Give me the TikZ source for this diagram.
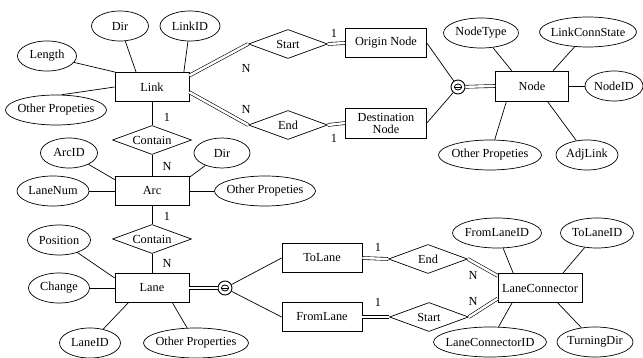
\documentclass[tikz,border=0pt]{standalone}
\usepackage{fontspec}
\setmainfont{Liberation Serif}
\usetikzlibrary{shapes.geometric}

\begin{document}
\begin{tikzpicture}[x=1pt, y=-1pt,
  every node/.style={font=\fontsize{12.3}{14}\selectfont},
  ent/.style={rectangle, draw, line width=0.7pt, minimum width=74pt, minimum height=29pt, inner sep=1pt, align=center},
  attr/.style={ellipse, draw, line width=0.7pt, minimum height=30pt, inner xsep=-6pt, inner ysep=0pt},
  rel/.style={diamond, draw, line width=0.7pt, shape aspect=2.75, minimum width=79pt, minimum height=29pt, inner sep=0pt},
  disj/.style={circle, draw, line width=0.9pt, minimum size=14pt, inner sep=0pt,
               path picture={\draw[line width=0.8pt] (path picture bounding box.center) ellipse (3.6pt and 3pt);
                             \draw[line width=0.6pt] ([xshift=-3.6pt]path picture bounding box.center) -- ([xshift=3.6pt]path picture bounding box.center);}},
  conn/.style={line width=0.7pt},
  dbl/.style={double, double distance=2.4pt, line width=0.6pt},
  lbl/.style={inner sep=0pt}
]
\useasboundingbox (0,0) rectangle (643,358);

% Entities
\node[ent] (link) at (152,87)  {Link};
\node[ent] (arc)  at (152,191) {Arc};
\node[ent] (lane) at (152,288) {Lane};
\node[ent, minimum width=81pt] (orig) at (386,43)  {Origin Node};
\node[ent, minimum width=81pt, minimum height=30pt] (dest) at (386,123) {Destination\\[-2pt]Node};
\node[ent, minimum width=73pt, minimum height=30pt] (node) at (532,86) {Node};
\node[ent, minimum width=80pt] (tolane)   at (322,258) {ToLane};
\node[ent, minimum width=80pt] (fromlane) at (322,317) {FromLane};
\node[ent, minimum width=84pt] (lconn)    at (540,288) {LaneConnector};

% Relationships
\node[rel] (cont1)  at (152,140) {Contain};
\node[rel] (cont2)  at (152,239) {Contain};
\node[rel] (lstart) at (288,44)  {Start};
\node[rel] (lend)   at (288,125) {End};
\node[rel] (cend)   at (428,259) {End};
\node[rel] (cstart) at (429,317) {Start};

% Disjoint circles
\node[disj] (djnode) at (458,87) {};
\node[disj] (djlane) at (225,288) {};

% Attributes of Link
\node[attr, minimum width=57pt]  (ldir)   at (120,26)  {Dir};
\node[attr, minimum width=60pt]  (lid)    at (190,26)  {LinkID};
\node[attr, minimum width=59pt]  (llen)   at (47,56)   {Length};
\node[attr, minimum width=101pt] (loth)   at (56,110)  {Other Propeties};

% Attributes of Node
\node[attr, minimum width=75pt]  (ntype)  at (481,33)  {NodeType};
\node[attr, minimum width=97pt]  (nstate) at (588,32)  {LinkConnState};
\node[attr, minimum width=58pt]  (nid)    at (614,86)  {NodeID};
\node[attr, minimum width=103pt] (noth)   at (490,155) {Other Propeties};
\node[attr, minimum width=62pt]  (nadj)   at (587,155) {AdjLink};

% Attributes of Arc
\node[attr, minimum width=57pt]  (aid)    at (69,153)  {ArcID};
\node[attr, minimum width=56pt]  (adir)   at (222,153) {Dir};
\node[attr, minimum width=72pt]  (anum)   at (53,191)  {LaneNum};
\node[attr, minimum width=101pt] (aoth)   at (265,191) {Other Propeties};

% Attributes of Lane
\node[attr, minimum width=63pt]  (lpos)   at (59,240)  {Position};
\node[attr, minimum width=61pt]  (lchg)   at (59,288)  {Change};
\node[attr, minimum width=61pt]  (laneid) at (90,343)  {LaneID};
\node[attr, minimum width=105pt] (lnoth)  at (196,343) {Other Properties};

% Attributes of LaneConnector
\node[attr, minimum width=89pt]  (cfrom)  at (497,233) {FromLaneID};
\node[attr, minimum width=73pt]  (cto)    at (597,233) {ToLaneID};
\node[attr, minimum width=113pt] (cid)    at (490,342) {LaneConnectorID};
\node[attr, minimum width=76pt]  (cturn)  at (595,342) {TurningDir};

% Cardinality labels
\node[lbl] (c1)  at (167,117) {1};
\node[lbl] (c2)  at (167,166) {N};
\node[lbl] (c3)  at (167,216) {1};
\node[lbl] (c4)  at (167,263) {N};
\node[lbl] (c5)  at (246,68)  {N};
\node[lbl] (c6)  at (246,109) {N};
\node[lbl] (c7)  at (334,33)  {1};
\node[lbl] (c8)  at (334,138) {1};
\node[lbl] (c9)  at (378,247) {1};
\node[lbl] (c10) at (378,302) {1};
\node[lbl] (c11) at (473,275) {N};
\node[lbl] (c12) at (473,301) {N};

% Attribute lines
\draw[conn] (llen) -- (link.158);
\draw[conn] (ldir) -- (link.137);
\draw[conn] (lid) -- (link.25);
\draw[conn] (loth.70) -- (link.west);
\draw[conn] (ntype) -- (node.143);
\draw[conn] (nstate) -- (node.36);
\draw[conn] (node.east) -- (nid);
\draw[conn] (noth) -- (node.211);
\draw[conn] (nadj) -- (node.-45);
\draw[conn] (aid) -- (arc.163);
\draw[conn] (adir) -- (arc.20);
\draw[conn] (anum) -- (arc.west);
\draw[conn] (arc.east) -- (aoth);
\draw[conn] (lpos) -- (lane.165);
\draw[conn] (lchg) -- (lane.west);
\draw[conn] (laneid) -- (lane.212);
\draw[conn] (lnoth) -- (lane.-36);
\draw[conn] (cfrom) -- (lconn.151);
\draw[conn] (cto) -- (lconn.33);
\draw[conn] (cid) -- (lconn.208);
\draw[conn] (cturn) -- (lconn.-40);

% Relationship lines
\draw[conn] (link) -- (cont1);
\draw[conn] (cont1) -- (arc);
\draw[conn] (arc) -- (cont2);
\draw[conn] (cont2) -- (lane);
\draw[dbl] (link.17) -- (lstart.west);
\draw[dbl] (link.-8) -- (lend.west);
\draw[dbl] (lstart.east) -- (orig.west);
\draw[dbl] (lend.east) -- (dest.west);
\draw[conn] (orig.east) -- (djnode);
\draw[conn] (dest.east) -- (djnode);
\draw[dbl] (djnode) -- (node.west);
\draw[dbl] (lane.east) -- (djlane);
\draw[conn] (djlane) -- (tolane.west);
\draw[conn] (djlane) -- (fromlane.west);
\draw[dbl] (tolane.east) -- (cend.west);
\draw[dbl] (fromlane.east) -- (cstart.west);
\draw[dbl] (cend.east) -- (lconn.164);
\draw[dbl] (cstart.east) -- (lconn.194);
\end{tikzpicture}
\end{document}
